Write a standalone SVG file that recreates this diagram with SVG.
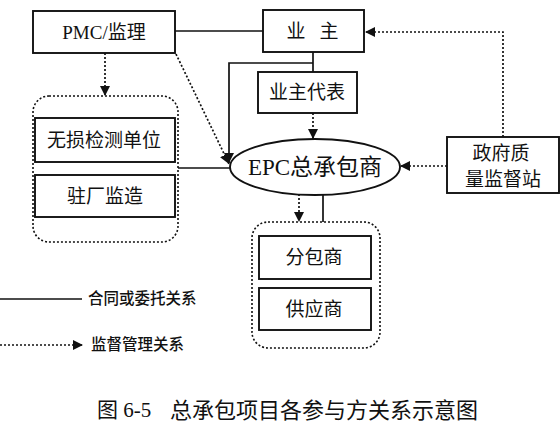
<svg xmlns="http://www.w3.org/2000/svg" width="560" height="435" viewBox="0 0 560 435">
<defs>
<marker id="ah" viewBox="0 0 10 10" refX="10" refY="5" markerWidth="10" markerHeight="10" markerUnits="userSpaceOnUse" orient="auto">
<path d="M0,0 L10,5 L0,10 Z" fill="#111"/>
</marker>
</defs>
<style>
.box{fill:#fff;stroke:#111;stroke-width:1.9}
.grp{fill:none;stroke:#111;stroke-width:1.6;stroke-dasharray:2 2}
.solid{fill:none;stroke:#111;stroke-width:1.7}
.dash{fill:none;stroke:#111;stroke-width:1.7;stroke-dasharray:2 2}
.t{font-family:"Liberation Serif","Noto Sans CJK SC",serif;font-size:19px;fill:#111;text-anchor:middle}
.lg{font-family:"Noto Sans CJK SC","Liberation Sans",sans-serif;font-size:15.5px;font-weight:500;fill:#111}
.cap{font-family:"Liberation Serif","Noto Sans CJK SC",serif;font-size:21px;fill:#111}
</style>
<rect width="560" height="435" fill="#fff"/>
<g id="connectors">
<line class="solid" x1="175" y1="31" x2="263" y2="31"/>
<polyline class="solid" points="313,52 313,72"/>
<polyline class="solid" points="313,63 229,63 229,163" marker-end="url(#ah)"/>
<line class="dash" x1="313" y1="113" x2="313" y2="139" marker-end="url(#ah)"/>
<line class="dash" x1="105" y1="53" x2="105" y2="96" marker-end="url(#ah)"/>
<line class="dash" x1="176" y1="54" x2="229" y2="164" marker-end="url(#ah)"/>
<line class="solid" x1="178" y1="168" x2="231" y2="168"/>
<line class="dash" x1="447" y1="166" x2="400" y2="166" marker-end="url(#ah)"/>
<polyline class="dash" points="503,137 503,32 365,32" marker-end="url(#ah)"/>
<line class="dash" x1="299" y1="194" x2="299" y2="222" marker-end="url(#ah)"/>
<line class="solid" x1="323" y1="194" x2="323" y2="222"/>
</g>
<g id="pmc">
<rect class="box" x="33" y="11" width="142" height="42"/>
<text class="t" x="104" y="39">PMC/监理</text>
</g>
<g id="owner">
<rect class="box" x="263" y="10" width="101" height="42"/>
<text class="t" x="296" y="38">业</text>
<text class="t" x="329" y="38">主</text>
</g>
<g id="owner-rep">
<rect class="box" x="258" y="72" width="99" height="41"/>
<text class="t" x="307" y="99">业主代表</text>
</g>
<g id="epc">
<ellipse class="box" cx="315" cy="167" rx="85" ry="28"/>
<text class="t" x="315" y="175" style="font-size:23px">EPC总承包商</text>
</g>
<g id="gov">
<rect class="box" x="447" y="137" width="112" height="56"/>
<text class="t" x="501" y="160">政府质</text>
<text class="t" x="503" y="186">量监督站</text>
</g>
<g id="left-group">
<rect class="grp" x="33" y="96" width="145" height="146" rx="16"/>
<rect class="box" x="35" y="118" width="140" height="44"/>
<text class="t" x="104" y="147">无损检测单位</text>
<rect class="box" x="35" y="175" width="140" height="42"/>
<text class="t" x="105" y="203">驻厂监造</text>
</g>
<g id="bottom-group">
<rect class="grp" x="252" y="222" width="128" height="126" rx="16"/>
<rect class="box" x="259" y="236" width="112" height="43"/>
<text class="t" x="314" y="264">分包商</text>
<rect class="box" x="259" y="288" width="112" height="42"/>
<text class="t" x="314" y="316">供应商</text>
</g>
<g id="legend">
<line class="solid" x1="0" y1="299" x2="82" y2="299"/>
<text class="lg" x="88" y="304">合同或委托关系</text>
<line class="dash" x1="0" y1="345" x2="83" y2="345" marker-end="url(#ah)"/>
<text class="lg" x="91" y="350">监督管理关系</text>
</g>
<g id="caption">
<text class="cap" x="97" y="417">图 6-5</text>
<text class="cap" x="170" y="418" style="font-size:22px">总承包项目各参与方关系示意图</text>
</g>
</svg>
